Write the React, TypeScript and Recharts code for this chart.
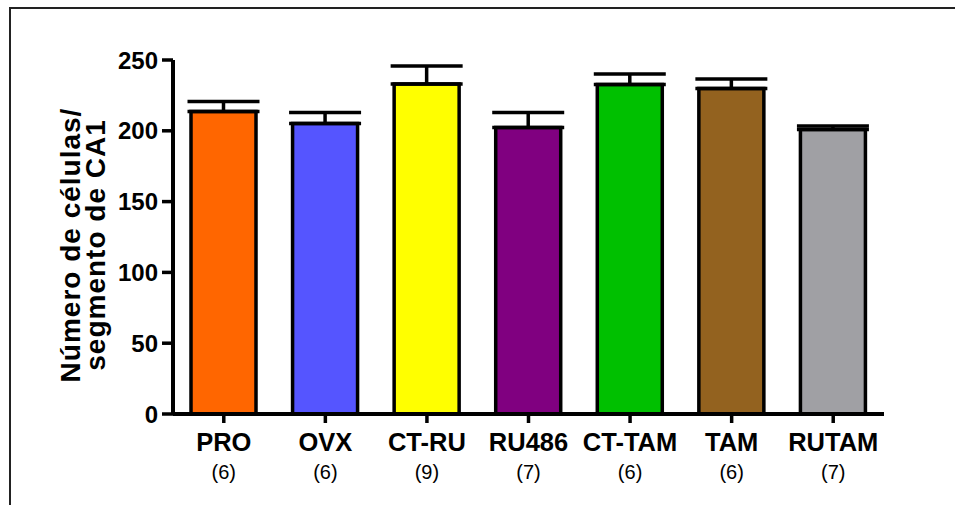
import { Bar, BarChart, Cell, ErrorBar, Label, XAxis, YAxis } from "recharts";

const categories = ["PRO", "OVX", "CT-RU", "RU486", "CT-TAM", "TAM", "RUTAM"];
const groupSizes = ["(6)", "(6)", "(9)", "(7)", "(6)", "(6)", "(7)"];
const means = [213.6, 205.2, 233.0, 202.3, 232.7, 229.9, 200.9];
const sems = [7.1, 7.7, 12.8, 10.6, 7.4, 6.7, 2.5];
const barColors = ["#FF6600", "#5555FF", "#FFFF00", "#800080", "#00C000", "#93621F", "#A0A0A4"];
const yTicks = [0, 50, 100, 150, 200, 250];

const data = categories.map((name, i) => ({
  name,
  n: groupSizes[i],
  value: means[i],
  err: [0, sems[i]],
}));

const FONT = "Arial, 'Liberation Sans', Helvetica, sans-serif";

function CategoryTick(props: any) {
  const { x, y, payload } = props;
  const n = groupSizes[payload.index] ?? "";
  return (
    <g>
      <text x={x} y={y + 28} textAnchor="middle" fontFamily={FONT} fontSize={25.5} fontWeight="bold" fill="#000">
        {payload.value}
      </text>
      <text x={x} y={y + 56} textAnchor="middle" fontFamily={FONT} fontSize={20} fill="#000">
        {n}
      </text>
    </g>
  );
}

function YTitle(props: any) {
  const { viewBox } = props;
  // Prism centres the title a little below the axis middle
  const cy = viewBox.y + viewBox.height / 2 + 8;
  const lines = ["Número de células/", "segmento de CA1"];
  const xs = [80, 105];
  return (
    <g>
      {lines.map((t, i) => (
        <text
          key={t}
          x={xs[i]}
          y={cy}
          transform={`rotate(-90 ${xs[i]} ${cy})`}
          textAnchor="middle"
          fontFamily={FONT}
          fontSize={28}
          fontWeight="bold"
          letterSpacing={1}
          fill="#000"
        >
          {t}
        </text>
      ))}
    </g>
  );
}

export default function App() {
  return (
    <div style={{ position: "relative", width: 955, height: 505, background: "#fff" }}>
      <style>{`body{margin:0}`}</style>
      <div
        style={{
          position: "absolute",
          left: 9,
          top: 7,
          right: 0,
          bottom: 0,
          borderLeft: "2px solid #222",
          borderTop: "2px solid #222",
        }}
      />
      <div style={{ position: "absolute", left: 0, top: 0 }}>
        <BarChart
          width={955}
          height={505}
          data={data}
          margin={{ top: 60, right: 71, bottom: 0, left: 0 }}
          barSize={65}
        >
          <XAxis
            dataKey="name"
            axisLine={{ stroke: "#000", strokeWidth: 4 }}
            tickLine={{ stroke: "#000", strokeWidth: 3.5 }}
            tickSize={9}
            tickMargin={0}
            tick={<CategoryTick />}
            interval={0}
            height={91}
          />
          <YAxis
            width={173}
            domain={[0, 250]}
            ticks={yTicks}
            axisLine={{ stroke: "#000", strokeWidth: 4 }}
            tickLine={{ stroke: "#000", strokeWidth: 3.5 }}
            tickSize={11}
            tickMargin={4}
            tick={{ fontFamily: FONT, fontSize: 24, fontWeight: "bold", fill: "#000" }}
            interval={0}
          >
            <Label content={<YTitle />} position="left" />
          </YAxis>
          <Bar dataKey="value" stroke="#000" strokeWidth={3.5} isAnimationActive={false}>
            {data.map((d, i) => (
              <Cell key={d.name} fill={barColors[i]} />
            ))}
            <ErrorBar dataKey="err" width={36} stroke="#000" strokeWidth={3.5} direction="y" />
          </Bar>
        </BarChart>
      </div>
    </div>
  );
}
